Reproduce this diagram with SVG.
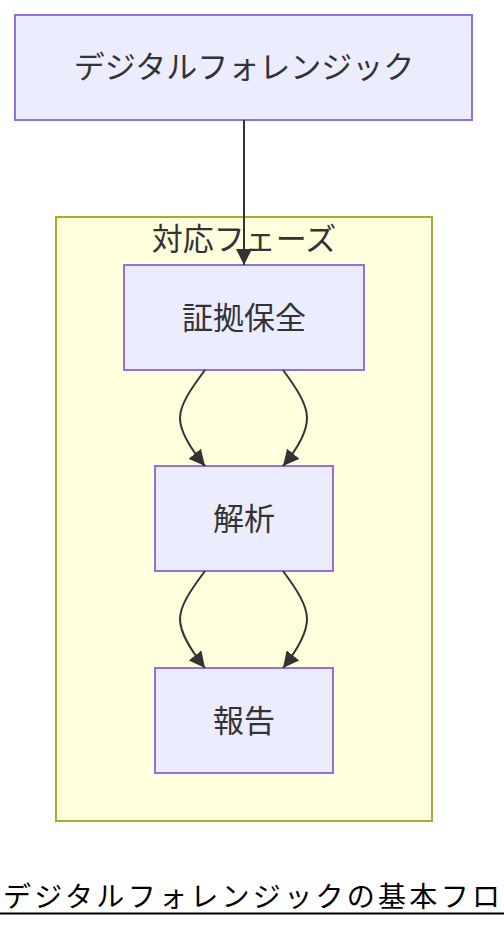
<svg xmlns="http://www.w3.org/2000/svg" width="504" height="928" viewBox="0 0 504 928">
<style>
.node rect{fill:#ECECFF;stroke:#9370DB;stroke-width:2}
.node text,.cl text{font-family:"Noto Sans CJK JP","Noto Sans",sans-serif;font-size:31px;fill:#333;text-anchor:middle;dominant-baseline:central}
.cl rect{fill:#FFFFDE;stroke:#AAAA33;stroke-width:2}
.edge{fill:none;stroke:#333;stroke-width:2}
.title{font-family:"Noto Sans CJK JP","Noto Sans",sans-serif;font-size:28px;fill:#000;letter-spacing:3.3px}
</style>
<defs>
<marker id="arr" viewBox="0 0 10 10" refX="10" refY="5" markerWidth="8" markerHeight="8" orient="auto" markerUnits="strokeWidth">
<path d="M0,0 L10,5 L0,10 z" fill="#333"/>
</marker>
</defs>
<rect width="504" height="928" fill="#fff"/>
<g id="cluster" class="cl">
<rect x="56" y="217" width="376" height="604"/>
<text x="244" y="236">対応フェーズ</text>
</g>
<g id="n0" class="node">
<rect x="15" y="15" width="457" height="105"/>
<text x="244" y="64">デジタルフォレンジック</text>
</g>
<g id="n1" class="node">
<rect x="124" y="265" width="240" height="105"/>
<text x="244" y="315">証拠保全</text>
</g>
<g id="n2" class="node">
<rect x="155" y="466" width="178" height="105"/>
<text x="244" y="516">解析</text>
</g>
<g id="n3" class="node">
<rect x="155" y="668" width="178" height="105"/>
<text x="244" y="718">報告</text>
</g>
<g id="edges">
<path class="edge" d="M244,120 L244,265" marker-end="url(#arr)"/>
<path class="edge" d="M205,370 C190,390 180,405 180,418 C180,432 190,448 205,466" marker-end="url(#arr)"/>
<path class="edge" d="M283,370 C298,390 307,405 307,418 C307,432 298,448 283,466" marker-end="url(#arr)"/>
<path class="edge" d="M205,571 C190,591 180,606 180,619 C180,633 190,649 205,668" marker-end="url(#arr)"/>
<path class="edge" d="M283,571 C298,591 307,606 307,619 C307,633 298,649 283,668" marker-end="url(#arr)"/>
</g>
<g id="title">
<text class="title" x="3" y="907">デジタルフォレンジックの基本フロ</text>
<line x1="0" y1="913.5" x2="504" y2="913.5" stroke="#000" stroke-width="2"/>
</g>
</svg>
